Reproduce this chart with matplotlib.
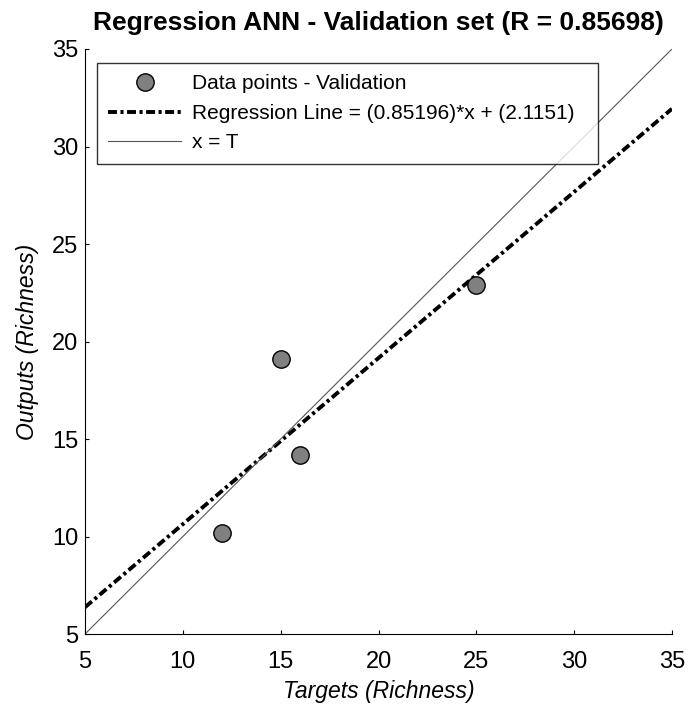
import matplotlib
matplotlib.use("Agg")
import matplotlib.pyplot as plt
import numpy as np

plt.rcParams['font.family'] = ['Liberation Sans', 'DejaVu Sans']

targets = [12, 15, 16, 25]
outputs = [10.2, 19.1, 14.2, 22.9]
slope = 0.85196
intercept = 2.1151
R = 0.85698
ticks = [5, 10, 15, 20, 25, 30, 35]

fig = plt.figure(figsize=(6.89, 7.04), dpi=100)
ax = fig.add_axes([0.1234, 0.0994, 0.8519, 0.8310])

xl = np.array([5, 35])
ax.plot(targets, outputs, 'o', markersize=12.5, markerfacecolor='#808080',
        markeredgecolor='black', markeredgewidth=1.0, label='Data points - Validation', zorder=3)
ax.plot(xl, slope * xl + intercept, color='black', lw=2.8,
        dashes=(2.3, 0.9, 0.8, 0.9), label='Regression Line = (%.5f)*x + (%.4f)' % (slope, intercept))
ax.plot(xl, xl, color='#555555', lw=0.8, label='x = T')

ax.set_xlim(5, 35)
ax.set_ylim(5, 35)
ax.set_xticks(ticks)
ax.set_yticks(ticks)
ax.tick_params(direction='in', length=3, labelsize=17, width=0.8)
ax.tick_params(axis='x', pad=12)
ax.tick_params(axis='y', pad=5)
for s in ['top', 'right']:
    ax.spines[s].set_visible(False)
ax.set_xlabel('Targets (Richness)', fontsize=16.5, style='italic', labelpad=5)
ax.set_ylabel('Outputs (Richness)', fontsize=16.5, style='italic', labelpad=9)
ax.set_title('Regression ANN - Validation set (R = %.5f)' % R, fontsize=19, fontweight='bold', pad=13.5)

leg = ax.legend(loc='upper left', bbox_to_anchor=(0.020, 0.795, 0.854, 0.181), mode='expand',
                fontsize=15, frameon=True, fancybox=False, edgecolor='black',
                handlelength=3.5, handletextpad=0.5, borderpad=0.55, borderaxespad=0,
                labelspacing=0.5)
leg.get_frame().set_linewidth(1.0)

fig.savefig('out.png', dpi=100)
